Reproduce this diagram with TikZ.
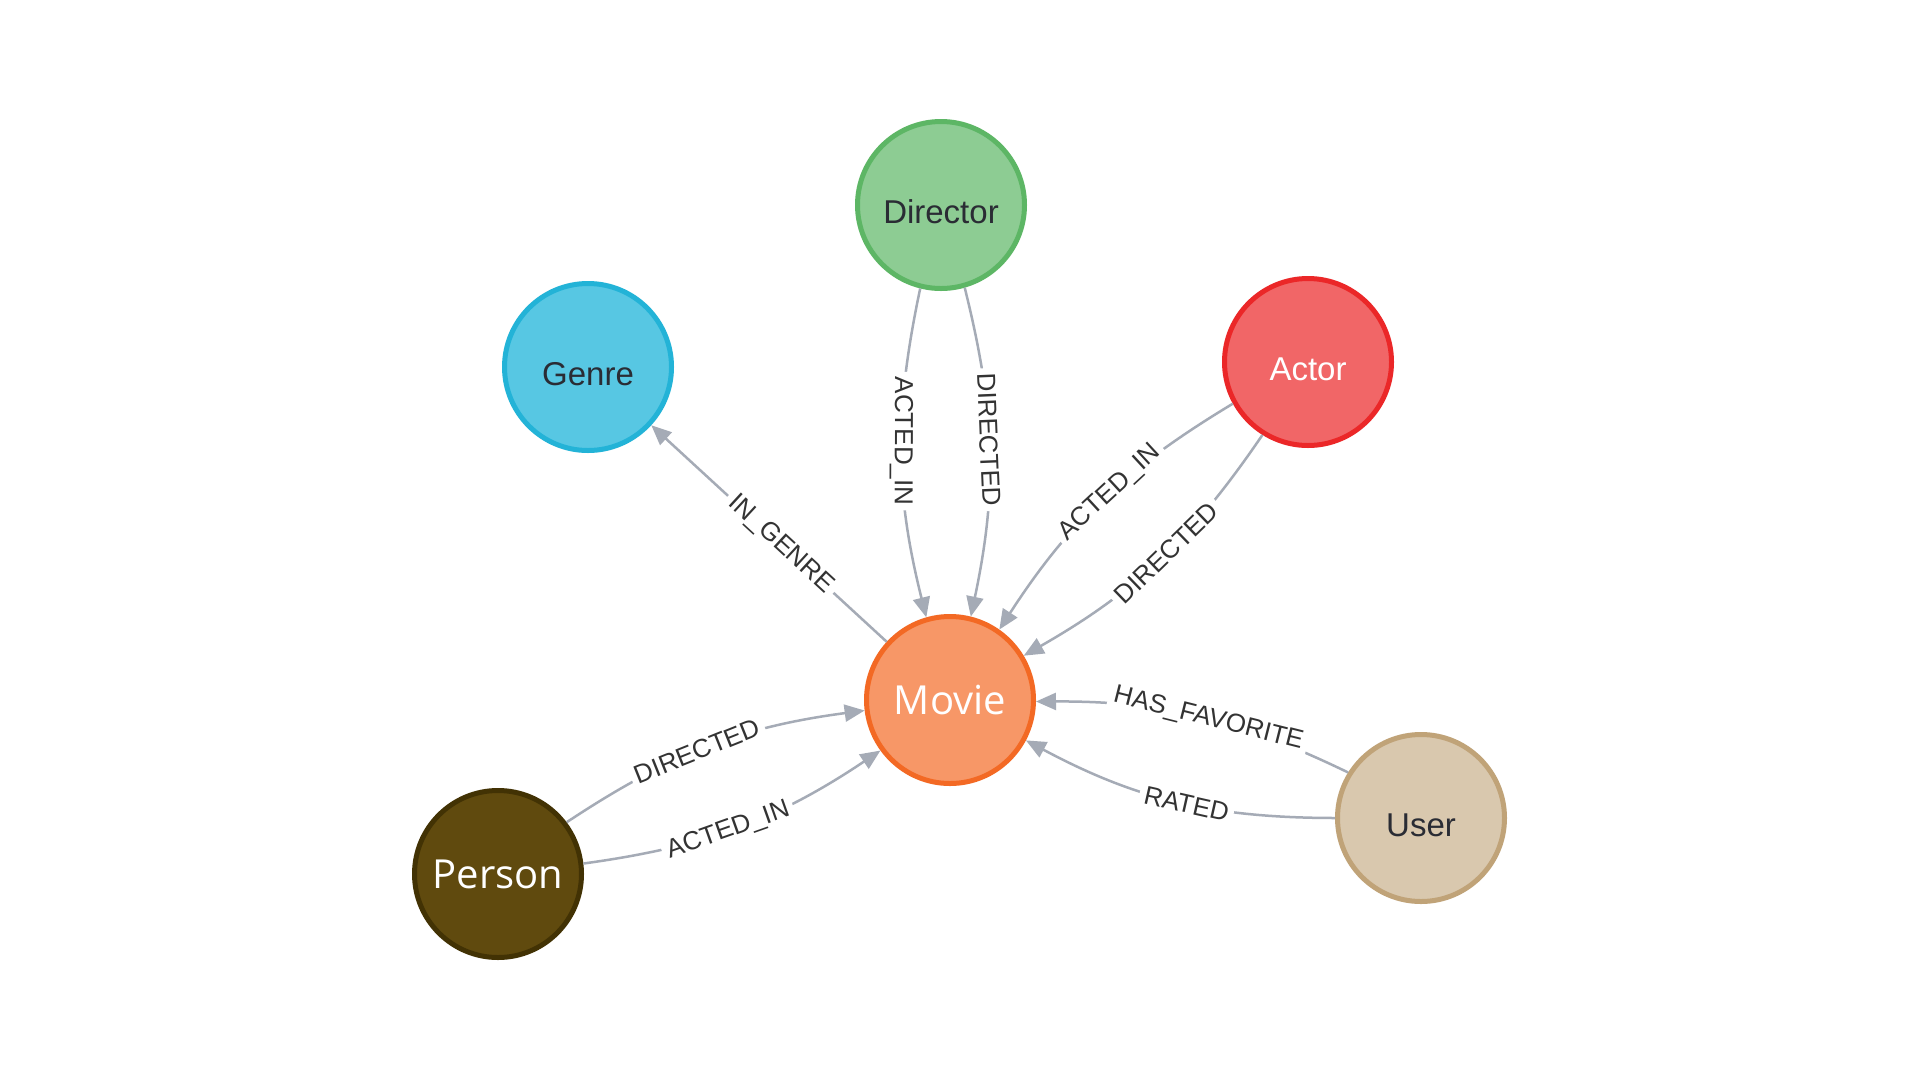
\documentclass[tikz,border=0pt]{standalone}
\usepackage{fontspec}
\setmainfont{Liberation Sans}
\newfontfamily\opensansfam{Open Sans}
\usetikzlibrary{arrows.meta}
\definecolor{edgec}{HTML}{A5ABB6}
\definecolor{labc}{HTML}{333333}
\definecolor{darktext}{HTML}{2A2C34}
\definecolor{dirfill}{HTML}{8DCC93}\definecolor{dirline}{HTML}{5DB665}
\definecolor{genfill}{HTML}{57C7E3}\definecolor{genline}{HTML}{23B3D7}
\definecolor{actfill}{HTML}{F16667}\definecolor{actline}{HTML}{EB2728}
\definecolor{movfill}{HTML}{F79767}\definecolor{movline}{HTML}{F36924}
\definecolor{perfill}{HTML}{604A0E}\definecolor{perline}{HTML}{423204}
\definecolor{usrfill}{HTML}{D9C8AE}\definecolor{usrline}{HTML}{C0A378}
\begin{document}
\begin{tikzpicture}[x=1pt,y=-1pt,
  ent/.style={circle, minimum size=167pt, inner sep=0pt, line width=5pt,
    font=\fontsize{33}{40}\selectfont, text=darktext,
    text height=36pt, text depth=0pt},
  entos/.style={circle, minimum size=167pt, inner sep=0pt, line width=5pt,
    font=\opensansfam\fontsize{40}{48}\selectfont, text=white},
  rel/.style={draw=edgec, line width=2.5pt, -{Triangle[length=20pt,width=17pt]}},
  lab/.style={fill=white, inner xsep=5pt, inner ysep=1pt,
    font=\fontsize{26}{30}\selectfont, text=labc, sloped, pos=0.46}
]
\useasboundingbox[fill=white] (0,0) rectangle (1920,1080);

\node[ent, fill=dirfill, draw=dirline] (dir) at (941,205) {Director};
\node[ent, fill=genfill, draw=genline] (gen) at (588,367) {Genre};
\node[ent, fill=actfill, draw=actline, text=white] (act) at (1308,362) {Actor};
\node[entos, fill=movfill, draw=movline] (mov) at (950,700) {Movie};
\node[entos, fill=perfill, draw=perline] (per) at (498,874) {Person};
\node[ent, fill=usrfill, draw=usrline] (usr) at (1421,818) {User};

% Movie -> Genre
\draw[rel] (mov) -- node[lab, pos=0.45]{IN\_GENRE} (gen);

% Director -> Movie
\draw[rel] (dir.256) to[bend right=13] node[lab, allow upside down]{ACTED\_IN} (mov.106);
\draw[rel] (dir.286) to[bend left=13] node[lab, allow upside down]{DIRECTED} (mov.76);

% Actor -> Movie
\draw[rel] (act.209) to[bend right=13] node[lab]{ACTED\_IN} (mov.55);
\draw[rel] (act.238) to[bend left=13] node[lab]{DIRECTED} (mov.31);

% Person -> Movie
\draw[rel] (per.37) to[bend left=13] node[lab]{DIRECTED} (mov.187);
\draw[rel] (per.7) to[bend right=13] node[lab]{ACTED\_IN} (mov.216);

% User -> Movie
\draw[rel] (usr.148) to[bend right=13] node[lab]{HAS\_FAVORITE} (mov.359);
\draw[rel] (usr.180) to[bend left=14] node[lab]{RATED} (mov.332);
\end{tikzpicture}
\end{document}
